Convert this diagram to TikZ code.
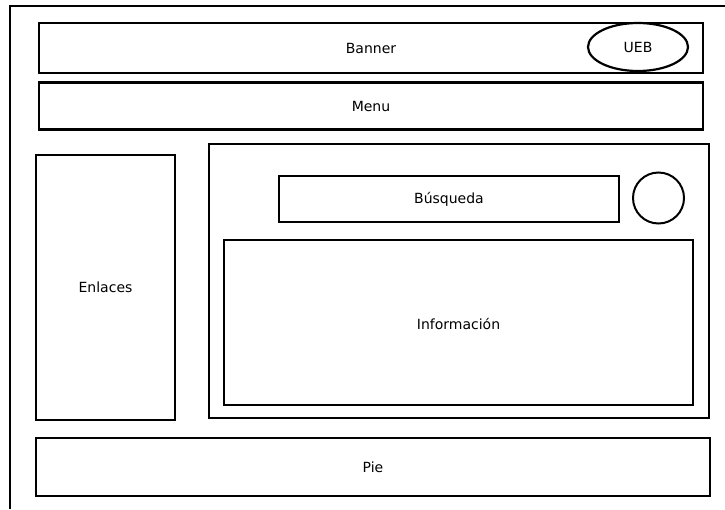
\documentclass[tikz,border=0pt]{standalone}
\usepackage{fontspec}
\setmainfont{DejaVu Sans}
\usetikzlibrary{shapes.geometric, positioning}

\begin{document}
\begin{tikzpicture}[
  x=1pt, y=-1pt,
  panel/.style={draw=black, line width=2.2pt, rectangle, inner sep=0pt,
                font=\fontsize{14}{16}\selectfont},
  logo/.style={draw=black, line width=2.2pt, ellipse, inner sep=0pt,
               minimum width=100pt, minimum height=48pt,
               font=\fontsize{14}{16}\selectfont},
  knob/.style={draw=black, line width=2pt, circle, inner sep=0pt,
               minimum size=51pt}
]
\useasboundingbox (0,0) rectangle (725,509);
% canvas edge
\draw[line width=2pt] (10,509) -- (10,6) -- (725,6);

% header
\node[panel, minimum width=664pt, minimum height=50pt] (banner) at (371,48) {Banner};
\node[logo] (ueb) at (638,47) {UEB};
\node[panel, minimum width=664pt, minimum height=47pt] (menu) at (371,106) {Menu};

% side links
\node[panel, minimum width=139pt, minimum height=265pt] (enlaces) at (105.5,287.5) {Enlaces};

% content area
\node[panel, minimum width=500pt, minimum height=274pt] (contenido) at (459,281) {};
\node[panel, minimum width=340pt, minimum height=46pt] (busqueda) at (449,199) {Búsqueda};
\node[knob] (boton) at (658.5,198) {};
\node[panel, minimum width=469pt, minimum height=165pt, text depth=0pt] (info) at (458.5,322.5) {\raisebox{-2pt}{Información}};

% footer
\node[panel, minimum width=674pt, minimum height=58pt] (pie) at (373,467) {Pie};
\end{tikzpicture}
\end{document}
